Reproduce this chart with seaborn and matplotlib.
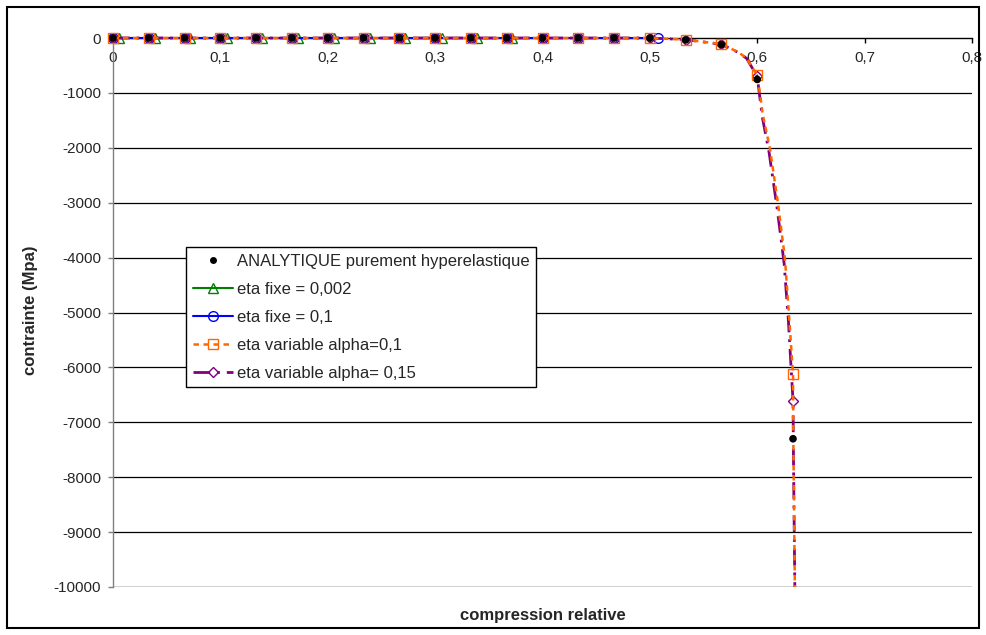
import numpy as np
import pandas as pd
import seaborn as sns
import matplotlib.pyplot as plt
from matplotlib.lines import Line2D
from matplotlib.patches import Rectangle

# values
x_ana = [0, 0.0333, 0.0667, 0.1, 0.1333, 0.1667, 0.2, 0.2333, 0.2667, 0.3, 0.3333, 0.3667,
         0.4, 0.4333, 0.4667, 0.5, 0.5333, 0.5667, 0.6, 0.6333]
y_ana = [0, 0, 0, 0, 0, 0, 0, 0, 0, 0, 0, 0, 0, 0, 0, 0, -35, -120, -755, -7300]

x_fixe_002 = [0.006, 0.039, 0.072, 0.106, 0.139, 0.172, 0.206, 0.239, 0.272, 0.306, 0.339, 0.372]
y_fixe_002 = [0, 0, 0, 0, 0, 0, 0, 0, 0, 0, 0, 0]

x_fixe_01 = [0, 0.0333, 0.0667, 0.1, 0.1333, 0.1667, 0.2, 0.2333, 0.2667, 0.3, 0.3333, 0.3667,
             0.4, 0.4333, 0.4667, 0.5075]
y_fixe_01 = [0, 0, 0, 0, 0, 0, 0, 0, 0, 0, 0, 0, 0, 0, 0, 0]

x_var_01 = [0, 0.0333, 0.0667, 0.1, 0.1333, 0.1667, 0.2, 0.2333, 0.2667, 0.3, 0.3333, 0.3667,
            0.4, 0.4333, 0.4667, 0.5, 0.5333, 0.5667, 0.582, 0.590, 0.6, 0.6024, 0.6052, 0.6117,
            0.6192, 0.6257, 0.6294, 0.6333, 0.6336, 0.6350]
y_var_01 = [0, 0, 0, 0, 0, 0, 0, 0, 0, 0, 0, 0, 0, 0, 0, 0, -30, -110, -255, -364, -680,
            -1000, -1400, -2000, -3000, -4000, -5000, -6120, -7300, -10000]
mk_var_01 = [0, 1, 2, 3, 4, 5, 6, 7, 8, 9, 10, 11, 12, 13, 14, 15, 16, 17, 20, 27]

x_var_015 = [0, 0.0333, 0.0667, 0.1, 0.1333, 0.1667, 0.2, 0.2333, 0.2667, 0.3, 0.3333, 0.3667,
             0.4, 0.4333, 0.4667, 0.5, 0.5333, 0.5667, 0.582, 0.590, 0.6, 0.6022, 0.6048, 0.6110,
             0.6185, 0.6250, 0.6290, 0.6333, 0.6338, 0.6350]
y_var_015 = [0, 0, 0, 0, 0, 0, 0, 0, 0, 0, 0, 0, 0, 0, 0, 0, -30, -115, -260, -370, -700,
             -1050, -1450, -2080, -3100, -4100, -5150, -6610, -7800, -10000]
mk_var_015 = [0, 1, 2, 3, 4, 5, 6, 7, 8, 9, 10, 11, 12, 13, 14, 15, 16, 17, 20, 27]

x_ticks = [0, 0.1, 0.2, 0.3, 0.4, 0.5, 0.6, 0.7, 0.8]
x_tick_labels = ["0", "0,1", "0,2", "0,3", "0,4", "0,5", "0,6", "0,7", "0,8"]
y_ticks = [0, -1000, -2000, -3000, -4000, -5000, -6000, -7000, -8000, -9000, -10000]

labels = ["ANALYTIQUE purement hyperelastique", "eta fixe = 0,002", "eta fixe = 0,1",
          "eta variable alpha=0,1", "eta variable alpha= 0,15"]

sns.set_style("white")
plt.rcParams['font.family'] = ['Liberation Sans', 'DejaVu Sans']
plt.rcParams['font.size'] = 11

fig = plt.figure(figsize=(9.86, 6.35), dpi=100)
ax = fig.add_axes([113/986, 1 - 587/635, (972 - 113)/986, (587 - 38)/635])

green, blue, orange, purple = '#008000', '#0000ff', '#ff6600', '#800080'
orange_dash = (2.2, 1.8)
purple_dash = (6, 2.5, 1, 2.5)

sns.lineplot(x=x_fixe_002, y=y_fixe_002, ax=ax, sort=False, estimator=None, color=green, lw=1.5,
             marker='^', ms=7, mfc='none', mec=green, mew=1, zorder=3, clip_on=False)
sns.lineplot(x=x_fixe_01, y=y_fixe_01, ax=ax, sort=False, estimator=None, color=blue, lw=1.5,
             marker='o', ms=7, mfc='none', mec=blue, mew=1, zorder=3, clip_on=False)
sns.lineplot(x=x_var_015, y=y_var_015, ax=ax, sort=False, estimator=None, color=purple, lw=2,
             dashes=False, linestyle=(0, purple_dash), marker='D', ms=5.5, mfc='none', mec=purple,
             mew=1, markevery=mk_var_015, zorder=4, clip_on=False)
sns.lineplot(x=x_var_01, y=y_var_01, ax=ax, sort=False, estimator=None, color=orange, lw=1.8,
             dashes=False, linestyle=(0, orange_dash), marker='s', ms=7, mfc='none', mec=orange,
             mew=1, markevery=mk_var_01, zorder=5, clip_on=False)
sns.scatterplot(x=x_ana, y=y_ana, ax=ax, color='black', s=30, edgecolor='none', zorder=6,
                clip_on=False)

ax.set_xlim(0, 0.8)
ax.set_ylim(-10000, 0)
ax.set_xticks(x_ticks)
ax.set_xticklabels(x_tick_labels)
ax.set_yticks(y_ticks)
ax.set_yticklabels([str(v) for v in y_ticks])

ax.spines['bottom'].set_position(('data', 0))
ax.spines['bottom'].set_color('black')
ax.spines['bottom'].set_linewidth(1)
ax.spines['left'].set_color('#808080')
ax.spines['left'].set_linewidth(1)
ax.spines['top'].set_visible(False)
ax.spines['right'].set_visible(False)
ax.tick_params(axis='x', direction='out', length=3.6, width=1, color='black', pad=6, labelsize=11)
ax.tick_params(axis='y', direction='out', length=3.6, width=1, color='#808080', pad=5, labelsize=11)
ax.xaxis.set_ticks_position('bottom')
ax.yaxis.set_ticks_position('left')

for v in y_ticks[1:-1]:
    ax.axhline(v, color='black', lw=0.9, zorder=1)
ax.axhline(-10000, color='#c8c8c8', lw=1.2, zorder=1)

ax.set_ylabel("contrainte (Mpa)", fontweight='bold', fontsize=12)
ax.yaxis.set_label_coords(-0.087, 0.505)
ax.set_xlabel("compression relative", fontweight='bold', fontsize=12)
ax.xaxis.set_label_coords(0.5, -0.038)

handles = [
    Line2D([], [], ls='none', marker='o', ms=5, color='black', mec='none'),
    Line2D([], [], color=green, lw=1.5, marker='^', ms=7, mfc='none', mec=green),
    Line2D([], [], color=blue, lw=1.5, marker='o', ms=7, mfc='none', mec=blue),
    Line2D([], [], color=orange, lw=1.8, ls=(0, orange_dash), marker='s', ms=7, mfc='none', mec=orange),
    Line2D([], [], color=purple, lw=2, ls=(0, purple_dash), marker='D', ms=5.5, mfc='none', mec=purple),
]
leg = ax.legend(handles, labels, loc='upper left', bbox_to_anchor=((186 - 113)/859, (587 - 247)/549),
                borderaxespad=0, frameon=True, fancybox=False, shadow=False, fontsize=12,
                handlelength=2.4, handletextpad=0.25, labelspacing=0.78, borderpad=0.4)
leg.get_frame().set_edgecolor('black')
leg.get_frame().set_linewidth(1)
leg.get_frame().set_facecolor('white')
leg.get_frame().set_alpha(1)
leg.set_zorder(10)

fig.add_artist(Rectangle((7/986, 1 - 628/635), (979 - 7)/986, (628 - 7)/635,
                         transform=fig.transFigure, fill=False, edgecolor='black', lw=1.5))

fig.savefig('out.png', dpi=100, facecolor='white')
